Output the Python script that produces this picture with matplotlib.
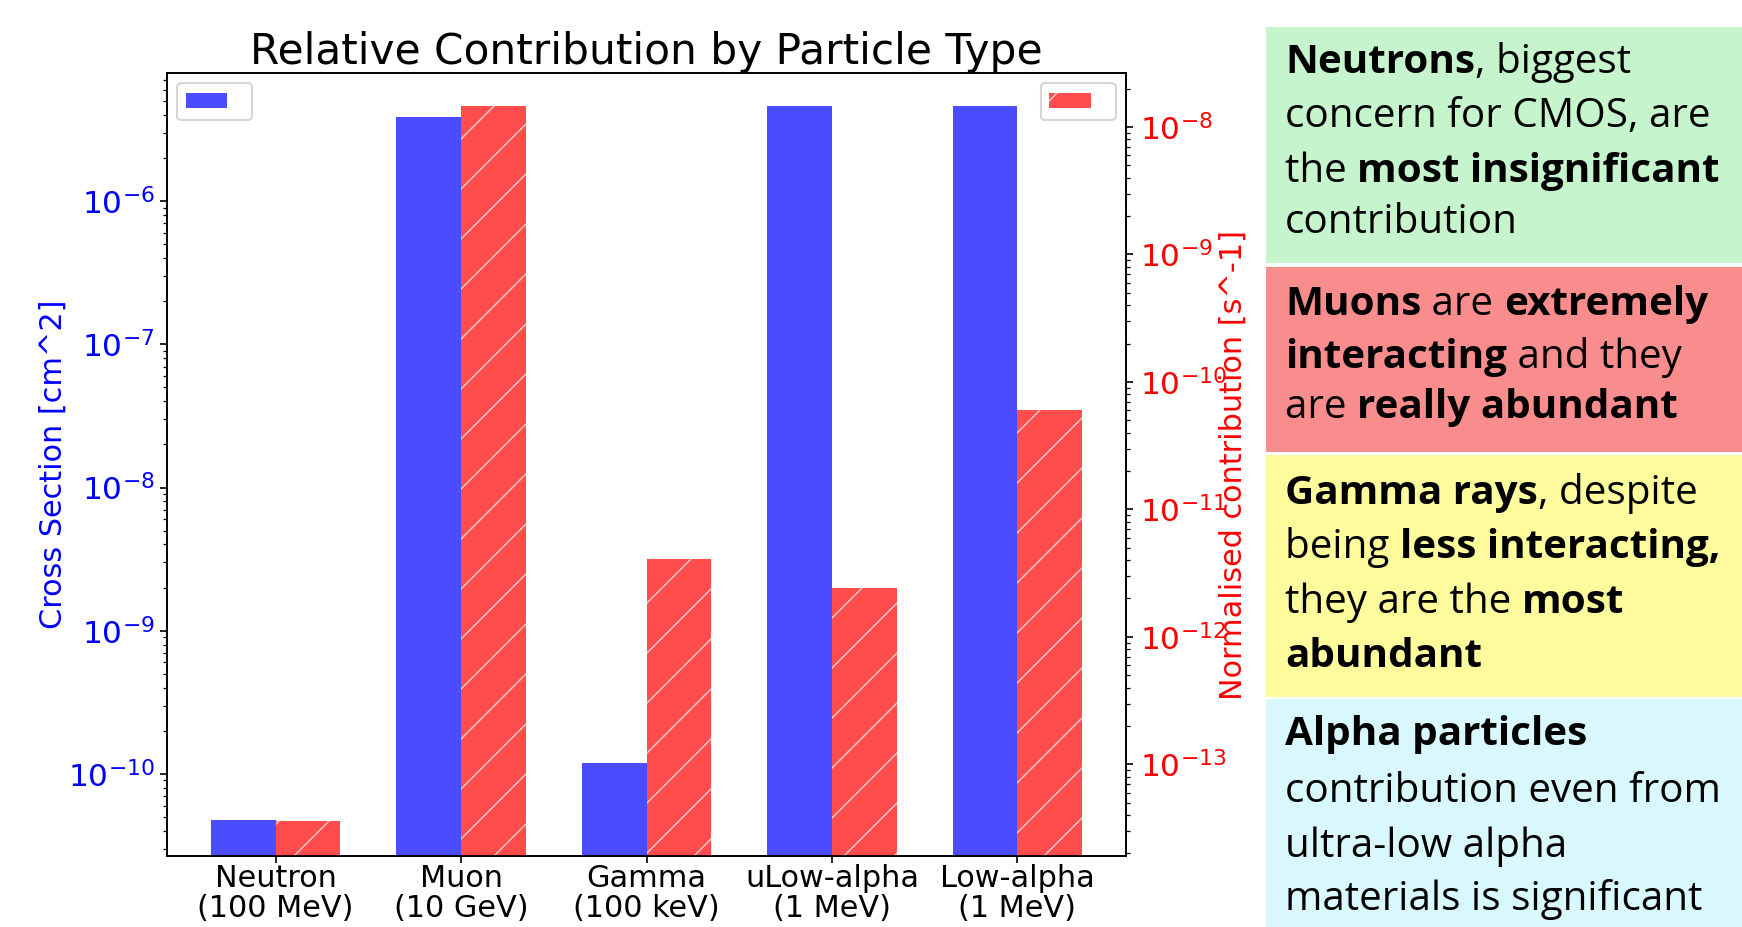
import numpy as np
import matplotlib
matplotlib.use("Agg")
import matplotlib.pyplot as plt
from matplotlib.patches import Rectangle

# data
particles = ["Neutron\n(100 MeV)", "Muon\n(10 GeV)", "Gamma\n(100 keV)",
             "uLow-alpha\n(1 MeV)", "Low-alpha\n(1 MeV)"]
cross_section = [4.8e-11, 3.9e-6, 1.19e-10, 4.6e-6, 4.6e-6]      # cm^2
contribution = [3.6e-14, 1.45e-8, 4.1e-12, 2.4e-12, 6.0e-11]     # s^-1

# side notes: (text, bold) pieces per line
notes = [
    ("#c6f5cd", [
        [("Neutrons", True), (", biggest", False)],
        [("concern for CMOS, are", False)],
        [("the ", False), ("most insignificant", True)],
        [("contribution", False)],
    ]),
    ("#f98d8d", [
        [("Muons", True), (" are ", False), ("extremely", True)],
        [("interacting", True), (" and they", False)],
        [("are ", False), ("really abundant", True)],
    ]),
    ("#fdfb9b", [
        [("Gamma rays", True), (", despite", False)],
        [("being ", False), ("less interacting,", True)],
        [("they are the ", False), ("most", True)],
        [("abundant", True)],
    ]),
    ("#d8f8fd", [
        [("Alpha particles", True)],
        [("contribution even from", False)],
        [("ultra-low alpha", False)],
        [("materials is significant", False)],
    ]),
]

W, H, DPI = 1742, 927, 150
plt.rcParams["hatch.linewidth"] = 0.7
fig = plt.figure(figsize=(W / DPI, H / DPI), dpi=DPI)

ax = fig.add_axes([167 / W, 1 - 856 / H, (1126 - 167) / W, (856 - 73) / H])
ax2 = ax.twinx()
ax.set_yscale("log")
ax2.set_yscale("log")

x = np.arange(len(particles))
w = 0.35
b1 = ax.bar(x - w / 2, cross_section, w, color="blue", alpha=0.7)
b2 = ax2.bar(x + w / 2, contribution, w, color="red", alpha=0.7,
             hatch="/", edgecolor="white", linewidth=0)

ax.set_ylim(2.67e-11, 7.85e-6)
ax2.set_ylim(1.91e-14, 2.65e-8)
ax.set_xticks(x, particles, fontsize=14.5, linespacing=1.05)
ax.tick_params(axis="x", pad=0.5)
ax.tick_params(axis="y", labelcolor="blue", labelsize=15, pad=2.5)
ax2.tick_params(axis="y", labelcolor="red", labelsize=15, pad=3)
ax.set_ylabel("Cross Section [cm^2]", color="blue", fontsize=14.5)
ax2.set_ylabel("Normalised contribution [s^-1]", color="red", fontsize=14.5)
ax.yaxis.set_label_coords(-0.104, 0.5)
ax2.yaxis.set_label_coords(1.097, 0.5)
ax.set_title("Relative Contribution by Particle Type", fontsize=20.3, pad=4.5)

ax.legend([b1], [""], loc="upper left")
ax2.legend([b2], [""], loc="upper right")

# text panel on the right, in pixel coordinates
tax = fig.add_axes([0, 0, 1, 1], facecolor="none")
tax.set_xlim(0, W)
tax.set_ylim(H, 0)
tax.axis("off")

box_y = [(27, 263), (267, 452), (455, 697), (699, 927)]
baselines = [[73, 127, 182, 233], [315, 368, 418],
             [504, 558, 613, 667], [745, 802, 857, 910]]
fs = 19.4
fam = "Open Sans"
r = fig.canvas.get_renderer()


def text_width(s, bold):
    t = tax.text(0, 0, s + "|", fontsize=fs, family=fam,
                 fontweight="bold" if bold else "normal")
    bar = tax.text(0, 0, "|", fontsize=fs, family=fam,
                   fontweight="bold" if bold else "normal")
    wdt = t.get_window_extent(r).width - bar.get_window_extent(r).width
    t.remove()
    bar.remove()
    return wdt


for (col, lines), (y0, y1), bl in zip(notes, box_y, baselines):
    tax.add_patch(Rectangle((1266, y0), W - 1266, y1 - y0, color=col, lw=0))
    for parts, yb in zip(lines, bl):
        xp = 1285
        for s, bold in parts:
            tax.text(xp, yb, s, fontsize=fs, family=fam, va="baseline",
                     fontweight="bold" if bold else "normal", color="black")
            xp += text_width(s, bold)

fig.savefig("out.png", dpi=DPI)
